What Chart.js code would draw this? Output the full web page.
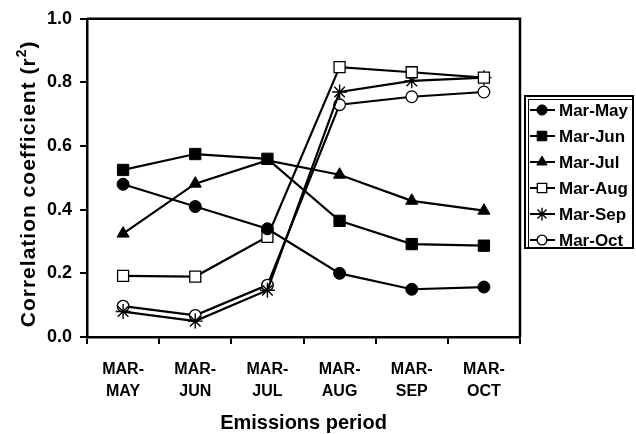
<!DOCTYPE html>
<html>
<head>
<meta charset="utf-8">
<script src="https://cdn.jsdelivr.net/npm/chart.js@4/dist/chart.umd.min.js"></script>
<style>
  html, body { margin: 0; padding: 0; background: #fff; }
  #wrap { width: 636px; height: 434px; }
</style>
</head>
<body>
<div id="wrap"><canvas id="c" width="636" height="434"></canvas></div>
<script>
// Emissions periods (x categories), two-line labels
const periods = [
  ["MAR-", "MAY"], ["MAR-", "JUN"], ["MAR-", "JUL"],
  ["MAR-", "AUG"], ["MAR-", "SEP"], ["MAR-", "OCT"]
];

// Correlation coefficient (r²) per series
const marMay = [0.48, 0.41, 0.34, 0.20, 0.15, 0.157];
const marJun = [0.525, 0.575, 0.56, 0.365, 0.292, 0.287];
const marJul = [0.325, 0.482, 0.555, 0.51, 0.428, 0.397];
const marAug = [0.192, 0.19, 0.315, 0.848, 0.832, 0.815];
const marSep = [0.08, 0.05, 0.147, 0.77, 0.805, 0.815];
const marOct = [0.097, 0.068, 0.163, 0.73, 0.755, 0.77];

const yTicks = [0, 0.2, 0.4, 0.6, 0.8, 1.0];

const seriesNames = ["Mar-May", "Mar-Jun", "Mar-Jul", "Mar-Aug", "Mar-Sep", "Mar-Oct"];
const seriesData = [marMay, marJun, marJul, marAug, marSep, marOct];
const styles = [
  { pointStyle: 'circle',   radius: 6,   fill: '#000', bw: 1 },
  { pointStyle: 'rect',     radius: 8,   fill: '#000', bw: 1 },
  { pointStyle: 'triangle', radius: 7,   fill: '#000', bw: 1 },
  { pointStyle: 'rect',     radius: 7.8, fill: '#fff', bw: 1.3 },
  { pointStyle: 'star',     radius: 7.5, fill: '#fff', bw: 1.4 },
  { pointStyle: 'circle',   radius: 5.8, fill: '#fff', bw: 1.3 }
];

const FONT = "'Liberation Sans', Arial, Helvetica, sans-serif";

const datasets = seriesNames.map((name, i) => ({
  label: name,
  data: seriesData[i],
  borderColor: '#000',
  borderWidth: 2.2,
  backgroundColor: styles[i].fill,
  pointStyle: styles[i].pointStyle,
  pointRadius: styles[i].radius,
  pointBorderWidth: styles[i].bw,
  pointBorderColor: '#000',
  pointBackgroundColor: styles[i].fill,
  tension: 0,
  fill: false
}));

// white page background
const bgPlugin = {
  id: 'bg',
  beforeDraw(chart) {
    const ctx = chart.ctx;
    ctx.save();
    ctx.fillStyle = '#fff';
    ctx.fillRect(0, 0, chart.width, chart.height);
    ctx.restore();
  }
};

// closes the plot frame (top and right edges)
const framePlugin = {
  id: 'frame',
  afterDraw(chart) {
    const { ctx, chartArea: a } = chart;
    ctx.save();
    ctx.strokeStyle = '#000';
    ctx.lineWidth = 2.5;
    ctx.beginPath();
    ctx.moveTo(a.left, a.top);
    ctx.lineTo(a.right, a.top);
    ctx.lineTo(a.right, a.bottom);
    ctx.stroke();
    ctx.restore();
  }
};

// rotated y-axis title with a raised "2" for r squared
const yTitlePlugin = {
  id: 'yTitle',
  afterDraw(chart) {
    const ctx = chart.ctx;
    const a = chart.chartArea;
    const main = "Correlation coefficient (r";
    const sup = "2";
    const tail = ")";
    ctx.save();
    ctx.fillStyle = '#000';
    ctx.textBaseline = 'alphabetic';
    ctx.textAlign = 'left';
    if ('letterSpacing' in ctx) ctx.letterSpacing = '1px';
    const bigFont = "bold 21px " + FONT;
    const supFont = "bold 14px " + FONT;
    ctx.font = bigFont;
    const w1 = ctx.measureText(main).width;
    const w3 = ctx.measureText(tail).width;
    ctx.font = supFont;
    const w2 = ctx.measureText(sup).width;
    const total = w1 + w2 + w3;
    const cy = (a.top + a.bottom) / 2 + 6;
    ctx.translate(27, cy);
    ctx.rotate(-Math.PI / 2);
    let x = -total / 2;
    const base = 8;
    ctx.font = bigFont;
    ctx.fillText(main, x, base);
    x += w1;
    ctx.font = supFont;
    ctx.fillText(sup, x, base - 9);
    x += w2;
    ctx.font = bigFont;
    ctx.fillText(tail, x, base);
    ctx.restore();
  }
};

// boxed legend to the right of the plot
const boxLegend = {
  id: 'boxLegend',
  afterDraw(chart) {
    const ctx = chart.ctx;
    const x0 = 525, y0 = 96, x1 = 633, y1 = 248;
    ctx.save();
    ctx.strokeStyle = '#000';
    ctx.lineWidth = 2;
    ctx.strokeRect(x0, y0, x1 - x0, y1 - y0);
    ctx.lineWidth = 1;
    ctx.beginPath();
    ctx.moveTo(x0 + 3.5, y1 - 1);
    ctx.lineTo(x0 + 3.5, y0 + 3.5);
    ctx.lineTo(x1 - 1, y0 + 3.5);
    ctx.stroke();
    ctx.font = "bold 17px " + FONT;
    ctx.textBaseline = 'middle';
    ctx.textAlign = 'left';
    chart.data.datasets.forEach((ds, i) => {
      const y = 110 + i * 26;
      ctx.strokeStyle = '#000';
      ctx.lineWidth = 2;
      ctx.beginPath();
      ctx.moveTo(530, y);
      ctx.lineTo(555, y);
      ctx.stroke();
      ctx.fillStyle = ds.pointBackgroundColor;
      ctx.lineWidth = ds.pointBorderWidth;
      Chart.helpers.drawPoint(ctx, {
        pointStyle: ds.pointStyle,
        radius: ds.pointRadius * 0.85,
        borderWidth: ds.pointBorderWidth,
        rotation: 0
      }, 542, y);
      ctx.fillStyle = '#000';
      ctx.fillText(ds.label, 559, y + 1);
    });
    ctx.restore();
  }
};

new Chart(document.getElementById('c'), {
  type: 'line',
  data: { labels: periods, datasets },
  options: {
    responsive: false,
    devicePixelRatio: 1,
    animation: false,
    layout: { padding: { top: 18, right: 116, left: 0, bottom: 0 } },
    plugins: {
      legend: { display: false },
      tooltip: { enabled: false }
    },
    scales: {
      x: {
        type: 'category',
        offset: true,
        afterFit(scale) { scale.height = 97; },
        grid: {
          display: true,
          offset: true,
          drawOnChartArea: false,
          drawTicks: true,
          tickLength: 7,
          lineWidth: 2,
          color: '#000'
        },
        border: { display: true, color: '#000', width: 2.5 },
        ticks: {
          color: '#000',
          font: { family: FONT, size: 16, weight: 'bold', lineHeight: 1.4 },
          padding: 14,
          maxRotation: 0,
          autoSkip: false
        },
        title: {
          display: true,
          text: 'Emissions period',
          color: '#000',
          font: { family: FONT, size: 20, weight: 'bold', lineHeight: 1 },
          padding: { top: 0, bottom: 1 }
        }
      },
      y: {
        min: 0,
        max: 1,
        afterFit(scale) { scale.width = 87; },
        afterBuildTicks(scale) { scale.ticks = yTicks.map(v => ({ value: v })); },
        grid: {
          display: true,
          drawOnChartArea: false,
          drawTicks: true,
          tickLength: 7,
          lineWidth: 2,
          color: '#000'
        },
        border: { display: true, color: '#000', width: 2.5 },
        ticks: {
          color: '#000',
          font: { family: FONT, size: 18, weight: 'bold' },
          padding: 8,
          callback: v => Number(v).toFixed(1)
        },
        title: { display: false }
      }
    }
  },
  plugins: [bgPlugin, framePlugin, yTitlePlugin, boxLegend]
});
</script>
</body>
</html>
